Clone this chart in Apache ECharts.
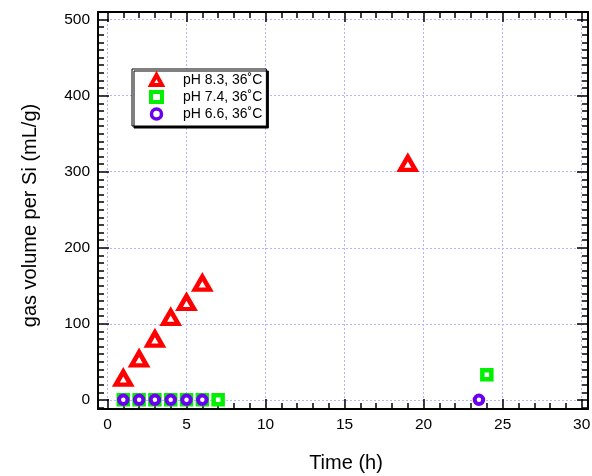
<!DOCTYPE html>
<html>
<head>
<meta charset="utf-8">
<script src="https://cdn.jsdelivr.net/npm/echarts@6/dist/echarts.min.js"></script>
<style>html,body{margin:0;padding:0;background:#fff;}#c{width:592px;height:476px;}</style>
</head>
<body>
<div id="c"></div>
<script>
// ---- data ----
const seriesNames = ['pH 8.3, 36˚C', 'pH 7.4, 36˚C', 'pH 6.6, 36˚C'];
const ph83Time = [1, 2, 3, 4, 5, 6, 19];
const ph83Gas  = [28.5, 54, 80, 108.5, 128, 153.5, 311];
const ph74Time = [1, 2, 3, 4, 5, 6, 7, 24];
const ph74Gas  = [0, 0, 0, 0, 0, 0, 0, 33];
const ph66Time = [1, 2, 3, 4, 5, 6, 23.5];
const ph66Gas  = [0, 0, 0, 0, 0, 0, 0];
const xTickLabels = ['0', '5', '10', '15', '20', '25', '30'];
const yTickLabels = ['0', '100', '200', '300', '400', '500'];
const xName = 'Time (h)';
const yName = 'gas volume per Si (mL/g)';

const pairs = (xs, ys) => xs.map((x, i) => [x, ys[i]]);

const FONT = 'Liberation Sans, Arial, Helvetica, sans-serif';
const XMIN = -0.6, XMAX = 30.4, YMIN = -12, YMAX = 510;
const RED = '#ff0000', GREEN = '#00f000', PURPLE = '#6a00ee';

function xAx(pos, major, labels) {
  return {
    type: 'value', position: pos, min: XMIN, max: XMAX,
    minInterval: major ? 5 : 1, maxInterval: major ? 5 : 1,
    axisLine: { show: major, onZero: false, lineStyle: { color: '#000', width: 2 } },
    axisTick: { show: true, inside: true, length: major ? 10 : 6, lineStyle: { color: '#000', width: 1.5 } },
    axisLabel: {
      show: labels, showMinLabel: false, showMaxLabel: false, margin: 8,
      color: '#000', fontSize: 15.5, fontFamily: FONT,
      formatter: v => xTickLabels.indexOf(String(v)) >= 0 ? String(v) : ''
    },
    splitLine: { show: labels, lineStyle: { color: '#b4b4ff', width: 1, type: [2, 2] } },
    name: labels ? xName : '', nameLocation: 'middle', nameGap: 44,
    nameTextStyle: { color: '#000', fontSize: 20, fontFamily: FONT, padding: [0, 0, 0, 6] }
  };
}
function yAx(pos, major, labels) {
  return {
    type: 'value', position: pos, min: YMIN, max: YMAX,
    minInterval: major ? 100 : 10, maxInterval: major ? 100 : 10,
    axisLine: { show: major, onZero: false, lineStyle: { color: '#000', width: 2 } },
    axisTick: { show: true, inside: true, length: major ? 11 : 6, lineStyle: { color: '#000', width: 1.5 } },
    axisLabel: {
      show: labels, showMinLabel: false, showMaxLabel: false, margin: 8,
      color: '#000', fontSize: 15.5, fontFamily: FONT,
      formatter: v => yTickLabels.indexOf(String(v)) >= 0 ? String(v) : ''
    },
    splitLine: { show: labels, lineStyle: { color: '#b4b4ff', width: 1, type: [2, 2] } },
    name: labels ? yName : '', nameLocation: 'middle', nameGap: 58,
    nameTextStyle: { color: '#000', fontSize: 20, fontFamily: FONT, padding: [0, 10, 0, 0] }
  };
}

const chart = echarts.init(document.getElementById('c'), null, { renderer: 'canvas' });
chart.setOption({
  animation: false,
  backgroundColor: '#fff',
  grid: { left: 98, right: 4, top: 12, bottom: 67, containLabel: false, outerBoundsMode: 'none' },
  xAxis: [xAx('bottom', true, true), xAx('bottom', false, false), xAx('top', true, false), xAx('top', false, false)],
  yAxis: [yAx('left', true, true), yAx('left', false, false), yAx('right', true, false), yAx('right', false, false)],
  legend: {
    orient: 'vertical', left: 132, top: 69,
    data: [
      { name: seriesNames[0], itemStyle: { color: '#fff', borderColor: RED, borderWidth: 4 } },
      { name: seriesNames[1], itemStyle: { color: '#fff', borderColor: GREEN, borderWidth: 4 } },
      { name: seriesNames[2], itemStyle: { color: '#fff', borderColor: PURPLE, borderWidth: 3.5 } }
    ],
    itemWidth: 11, itemHeight: 10, itemGap: 3,
    padding: [4, 4, 5, 17],
    backgroundColor: '#fff',
    borderColor: '#000', borderWidth: 1, borderRadius: 0,
    shadowColor: '#000', shadowBlur: 0, shadowOffsetX: 2, shadowOffsetY: 2,
    textStyle: { color: '#000', fontSize: 14, fontFamily: FONT, padding: [0, 0, 0, 16] }
  },
  series: [
    {
      name: seriesNames[0], type: 'scatter', data: pairs(ph83Time, ph83Gas),
      symbol: 'triangle', symbolSize: [15, 13],
      itemStyle: { color: '#fff', borderColor: RED, borderWidth: 4.5, opacity: 1 }
    },
    {
      name: seriesNames[1], type: 'scatter', data: pairs(ph74Time, ph74Gas),
      symbol: 'rect', symbolSize: 9,
      itemStyle: { color: '#fff', borderColor: GREEN, borderWidth: 4.5, opacity: 1 }
    },
    {
      name: seriesNames[2], type: 'scatter', data: pairs(ph66Time, ph66Gas),
      symbol: 'circle', symbolSize: 8.5,
      itemStyle: { color: '#fff', borderColor: PURPLE, borderWidth: 4, opacity: 1 }
    }
  ]
});
</script>
</body>
</html>
